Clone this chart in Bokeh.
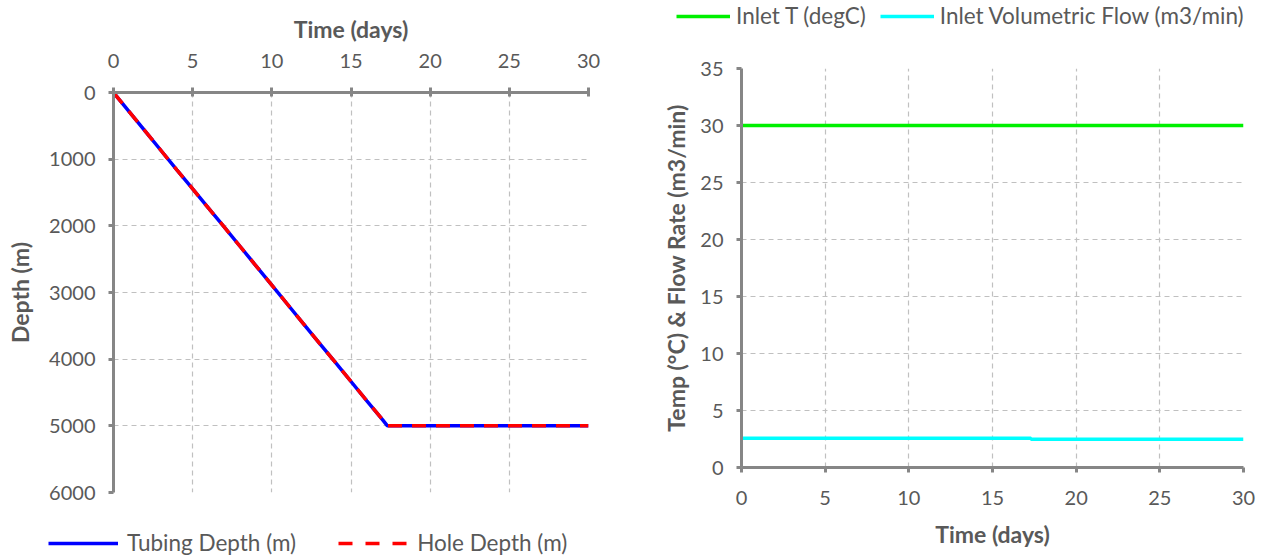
from bokeh.plotting import figure
from bokeh.models import Range1d, Legend, LegendItem, FixedTicker
from bokeh.layouts import row, column
from bokeh.embed import file_html
from bokeh.resources import INLINE

# ---- data ----
time_depth = [0, 1, 2, 3, 4, 5, 6, 7, 8, 9, 10, 11, 12, 13, 14, 15, 16, 17, 17.3, 20, 25, 30]
tubing_depth = [0, 290, 580, 870, 1160, 1445, 1735, 2020, 2310, 2600, 2890, 3180, 3470,
                3760, 4045, 4335, 4625, 4910, 5000, 5000, 5000, 5000]
hole_depth = [0, 290, 580, 870, 1160, 1445, 1735, 2020, 2310, 2600, 2890, 3180, 3470,
              3760, 4045, 4335, 4625, 4910, 5000, 5000, 5000, 5000]

time_inlet = [0, 17.3, 17.3, 30]
inlet_temp = [30, 30, 30, 30]
inlet_flow = [2.57, 2.57, 2.47, 2.47]

x_ticks = [0, 5, 10, 15, 20, 25, 30]
depth_ticks = [0, 1000, 2000, 3000, 4000, 5000, 6000]
temp_ticks = [0, 5, 10, 15, 20, 25, 30, 35]

FONT = "Lato"
TXT = "#595959"
AX = "#868686"
GRID = "#C0C0C0"
BLUE, RED, GREEN, CYAN = "#0000FF", "#FF0000", "#00F000", "#00FFFF"


def style_axis(ax, ticks, tick_in=0, tick_out=5):
    ax.ticker = FixedTicker(ticks=ticks)
    ax.axis_line_color = AX
    ax.axis_line_width = 3
    ax.major_tick_line_color = AX
    ax.major_tick_line_width = 3
    ax.major_tick_in = tick_in
    ax.major_tick_out = tick_out
    ax.minor_tick_line_color = None
    ax.major_label_text_font = FONT
    ax.major_label_text_font_size = "20px"
    ax.major_label_text_color = TXT
    ax.axis_label_text_font = FONT
    ax.axis_label_text_font_size = "23px"
    ax.axis_label_text_font_style = "bold"
    ax.axis_label_text_color = TXT


def style_grid(p):
    for g in (p.xgrid, p.ygrid):
        g.grid_line_color = GRID
        g.grid_line_dash = "5 4"
        g.grid_line_width = 1.2


def legend_fig(height, xr, yr):
    # a strip that only holds a legend; its data ranges keep the sample lines out of view
    f = figure(width=633, height=height, output_backend="svg", toolbar_location=None,
               x_range=Range1d(*xr), y_range=Range1d(*yr),
               min_border=0, min_border_left=0, min_border_right=0,
               min_border_top=0, min_border_bottom=0)
    f.axis.visible = False
    f.grid.visible = False
    f.outline_line_color = None
    return f


def style_legend(leg):
    leg.glyph_height = 24
    leg.label_height = 24
    leg.padding = 0
    leg.margin = 0
    leg.border_line_alpha = 0
    leg.background_fill_alpha = 0
    leg.label_text_font = FONT
    leg.label_text_font_size = "22.5px"
    leg.label_text_color = TXT


# ---- left chart ----
p1 = figure(width=633, height=512, output_backend="svg", toolbar_location=None,
            x_range=Range1d(0, 30), y_range=Range1d(6000, 0),
            x_axis_location="above", min_border_left=113, min_border_right=45,
            min_border_top=92, min_border_bottom=20)
p1.outline_line_color = None
style_axis(p1.xaxis[0], x_ticks, tick_in=4, tick_out=5)
style_axis(p1.yaxis[0], depth_ticks, tick_in=0, tick_out=5)
p1.xaxis[0].axis_label = "Time (days)"
p1.yaxis[0].axis_label = "Depth (m)"
p1.xaxis[0].major_label_standoff = 20
p1.xaxis[0].axis_label_standoff = 8
p1.yaxis[0].major_label_standoff = 13
p1.yaxis[0].axis_label_standoff = 12
p1.xgrid.ticker = FixedTicker(ticks=x_ticks)
p1.ygrid.ticker = FixedTicker(ticks=depth_ticks)
style_grid(p1)

p1.line(time_depth, tubing_depth, line_color=BLUE, line_width=3.5)
p1.line(time_depth, hole_depth, line_color=RED, line_width=3.5, line_dash="14 10")

lf1 = legend_fig(47, (100, 101), (100000, 100001))
k_tub = lf1.line(time_depth, tubing_depth, line_color=BLUE, line_width=3.5)
k_hole = lf1.line(time_depth, hole_depth, line_color=RED, line_width=3.5, line_dash="14 13")
leg1 = Legend(items=[LegendItem(label="Tubing Depth (m)", renderers=[k_tub]),
                     LegendItem(label="Hole Depth (m)", renderers=[k_hole])],
              orientation="horizontal", location=(48, 3))
style_legend(leg1)
leg1.glyph_width = 70
leg1.spacing = 42
leg1.label_standoff = 9
lf1.add_layout(leg1, "center")

# ---- right chart ----
p2 = figure(width=633, height=519, output_backend="svg", toolbar_location=None,
            x_range=Range1d(0, 30), y_range=Range1d(0, 35),
            min_border_left=108, min_border_right=23,
            min_border_top=28, min_border_bottom=92)
p2.outline_line_color = None
style_axis(p2.xaxis[0], x_ticks, tick_in=0, tick_out=5)
style_axis(p2.yaxis[0], temp_ticks, tick_in=0, tick_out=5)
p2.xaxis[0].axis_label = "Time (days)"
p2.yaxis[0].axis_label = "Temp (°C) & Flow Rate (m3/min)"
p2.xaxis[0].major_label_standoff = 18
p2.xaxis[0].axis_label_standoff = 12
p2.yaxis[0].major_label_standoff = 13
p2.yaxis[0].axis_label_standoff = 7
p2.xgrid.ticker = FixedTicker(ticks=x_ticks)
p2.ygrid.ticker = FixedTicker(ticks=temp_ticks)
style_grid(p2)

p2.line(time_inlet, inlet_temp, line_color=GREEN, line_width=3.5)
p2.line(time_inlet, inlet_flow, line_color=CYAN, line_width=3.5)

lf2 = legend_fig(40, (100, 101), (100, 101))
k_t = lf2.line(time_inlet, inlet_temp, line_color=GREEN, line_width=3.5)
k_f = lf2.line(time_inlet, inlet_flow, line_color=CYAN, line_width=3.5)
leg2 = Legend(items=[LegendItem(label="Inlet T (degC)", renderers=[k_t]),
                     LegendItem(label="Inlet Volumetric Flow (m3/min)", renderers=[k_f])],
              orientation="horizontal", location=(43, 11))
style_legend(leg2)
leg2.glyph_width = 54
leg2.spacing = 14
leg2.label_standoff = 6
lf2.add_layout(leg2, "center")

layout = row(column(column(p1), column(lf1)), column(column(lf2), column(p2)))
open("out.html", "w").write(file_html(layout, INLINE))
